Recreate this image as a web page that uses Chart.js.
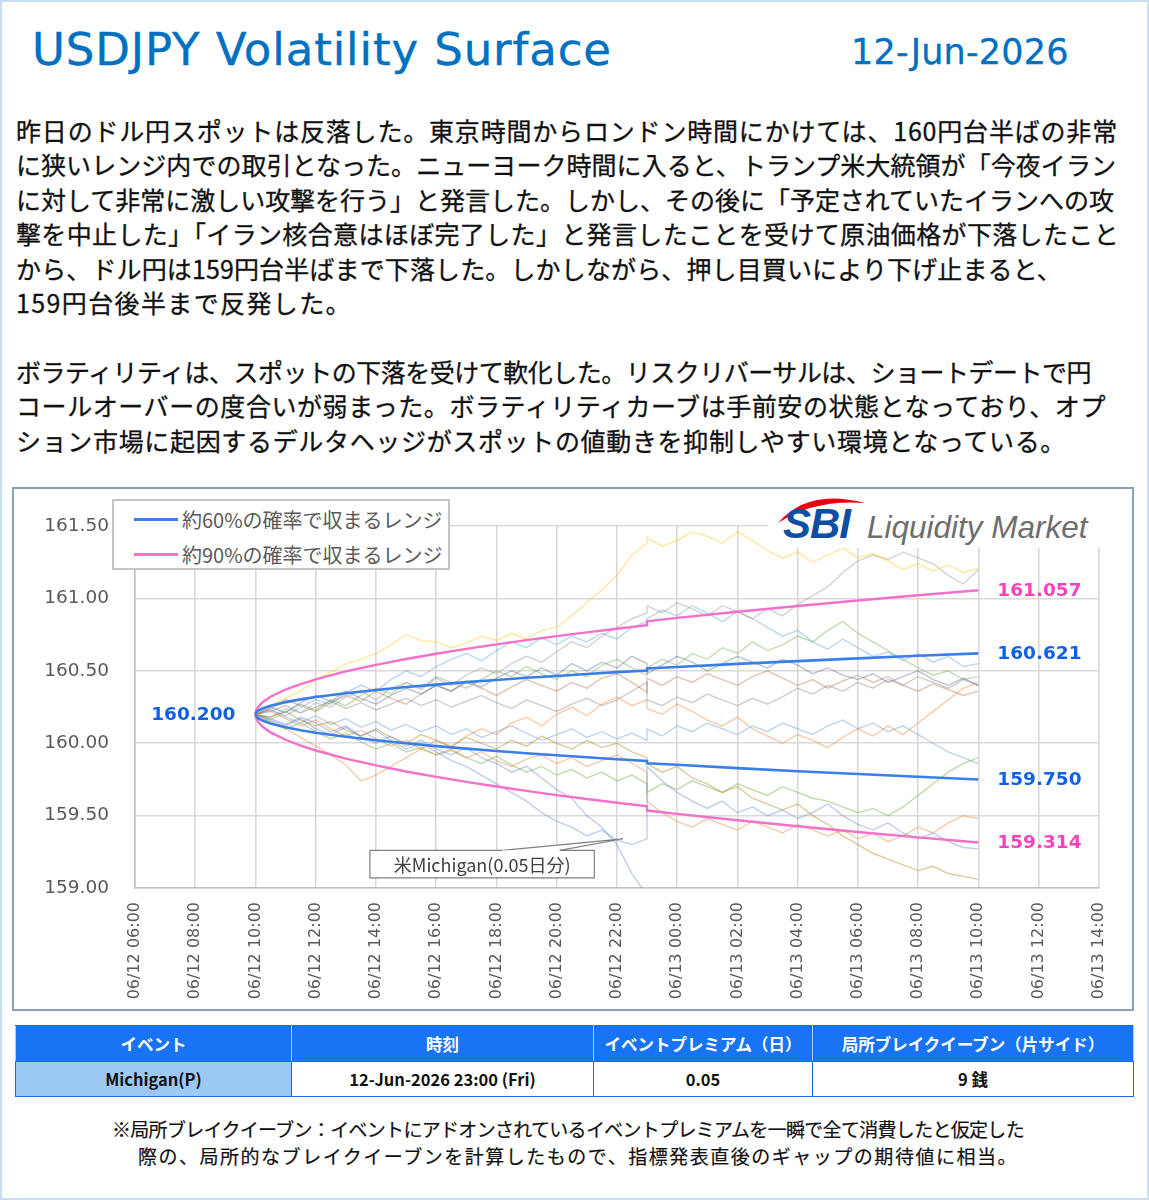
<!DOCTYPE html>
<html><head><meta charset="utf-8">
<script src="https://cdn.jsdelivr.net/npm/chart.js@4.4.1/dist/chart.umd.min.js"></script>
<style>
html,body{margin:0;padding:0;background:#fff;}
body{width:1149px;height:1200px;position:relative;overflow:hidden;font-family:"Noto Sans CJK JP","Noto Sans",sans-serif;}
#frame{position:absolute;left:0;top:0;width:1145px;height:1196px;border:2px solid #C9DDF0;}
#title{position:absolute;left:32px;top:22px;font-family:"DejaVu Sans",sans-serif;font-size:45px;line-height:56px;letter-spacing:0.9px;color:#0070C0;white-space:nowrap;-webkit-text-stroke:0.4px #0070C0;}
#date{position:absolute;left:851px;top:30px;font-family:"DejaVu Sans",sans-serif;font-size:35px;line-height:44px;letter-spacing:0.2px;color:#0070C0;white-space:nowrap;-webkit-text-stroke:0.3px #0070C0;}
.para{position:absolute;left:16px;top:113px;font-size:25px;line-height:34.4px;color:#111;-webkit-text-stroke:0.3px #111;}
.ln{display:block;width:max-content;white-space:nowrap;height:34.4px;}
#chartbox{position:absolute;left:12px;top:487px;width:1118px;height:520px;border:2px solid #8DA0B8;background:#fff;}
#chartbox canvas{position:absolute;left:0;top:0;}
#legend{position:absolute;left:112px;top:499px;width:338px;height:71px;box-sizing:border-box;border:2px solid #c4c4c4;background:#fff;}
.lg{position:absolute;left:20px;height:30px;display:flex;align-items:center;font-size:20px;color:#595959;white-space:nowrap;}
.lg i{display:inline-block;width:44px;height:3px;margin-right:4px;}
#logo{position:absolute;left:768px;top:492px;width:340px;height:56px;background:#fff;}
#evt{position:absolute;left:15px;top:1025px;border-collapse:collapse;table-layout:fixed;width:1118px;font-size:16.5px;font-weight:bold;}
#evt th{background:#1874F2;color:#fff;height:35px;border:1.5px solid #1D6BE0;border-left-color:#A9CBFF;border-right-color:#A9CBFF;padding:0;}
#evt td{height:34px;border:1.5px solid #1F66D8;text-align:center;color:#111;padding:0;background:#fff;}
#evt td.first{background:#9CC8F6;}
.note{position:absolute;font-size:19px;line-height:27px;color:#111;-webkit-text-stroke:0.2px #111;}
</style></head>
<body>
<div id="frame"></div>
<div id="title">USDJPY Volatility Surface</div>
<div id="date">12-Jun-2026</div>

<div class="para">
<span class="ln" data-w="1102">昨日のドル円スポットは反落した。東京時間からロンドン時間にかけては、160円台半ばの非常</span>
<span class="ln" data-w="1100">に狭いレンジ内での取引となった。ニューヨーク時間に入ると、トランプ米大統領が「今夜イラン</span>
<span class="ln" data-w="1098">に対して非常に激しい攻撃を行う」と発言した。しかし、その後に「予定されていたイランへの攻</span>
<span class="ln" data-w="1103">撃を中止した」「イラン核合意はほぼ完了した」と発言したことを受けて原油価格が下落したこと</span>
<span class="ln" data-w="1046">から、ドル円は159円台半ばまで下落した。しかしながら、押し目買いにより下げ止まると、</span>
<span class="ln" data-w="336">159円台後半まで反発した。</span>
<span class="ln"></span>
<span class="ln" data-w="1075">ボラティリティは、スポットの下落を受けて軟化した。リスクリバーサルは、ショートデートで円</span>
<span class="ln" data-w="1090">コールオーバーの度合いが弱まった。ボラティリティカーブは手前安の状態となっており、オプ</span>
<span class="ln" data-w="1050">ション市場に起因するデルタヘッジがスポットの値動きを抑制しやすい環境となっている。</span>
</div>

<div id="chartbox"><canvas id="c" width="1118" height="520"></canvas></div>
<div id="legend"></div>
<svg id="logo" width="340" height="56" viewBox="0 0 340 56">
  <path d="M 10 31 Q 40 -4 97 11 Q 46 7 10 31 Z" fill="#E60012"/>
  <text x="15" y="46" font-family="Liberation Sans, Arial, sans-serif" font-weight="bold" font-style="italic" font-size="42" fill="#0B4EA2" letter-spacing="-1">SBI</text>
  <text x="99" y="46" font-family="Liberation Sans, Arial, sans-serif" font-style="italic" font-size="31.5" fill="#6E6E6E">Liquidity Market</text>
</svg>

<table id="evt">
<colgroup><col style="width:276px"><col style="width:302px"><col style="width:219px"><col style="width:321px"></colgroup>
<thead><tr id="evtHead"></tr></thead>
<tbody id="evtBody"></tbody>
</table>

<div class="note" style="left:112px;top:1115px;"><span class="ln" style="height:27px" data-w="912">※局所ブレイクイーブン：イベントにアドオンされているイベントプレミアムを一瞬で全て消費したと仮定した</span></div>
<div class="note" style="left:138px;top:1142px;"><span class="ln" style="height:27px" data-w="880">際の、局所的なブレイクイーブンを計算したもので、指標発表直後のギャップの期待値に相当。</span></div>

<script>
// ---------- DATA ----------
const xTickLabels = ['06/12 06:00','06/12 08:00','06/12 10:00','06/12 12:00','06/12 14:00','06/12 16:00','06/12 18:00','06/12 20:00','06/12 22:00','06/13 00:00','06/13 02:00','06/13 04:00','06/13 06:00','06/13 08:00','06/13 10:00','06/13 12:00','06/13 14:00'];
const rangeLabels = ['約60%の確率で収まるレンジ','約90%の確率で収まるレンジ'];
const spotStart = 160.200;

// hours since 06/12 06:00 (event at 17 = 06/12 23:00 appears twice: before / after)
const envHours = [4,4.02,4.1,4.25,4.5,5,5.5,6,7,8,9,10,11,12,13,14,15,16,17,17,18,20,22,24,26,28];
const upper60 = [160.200,160.212,160.227,160.242,160.259,160.284,160.303,160.319,160.345,160.368,160.388,160.405,160.422,160.437,160.452,160.465,160.478,160.491,160.502,160.516,160.527,160.548,160.567,160.586,160.604,160.621];
const lower60 = [160.200,160.187,160.172,160.155,160.137,160.110,160.090,160.073,160.045,160.021,160.000,159.980,159.963,159.946,159.931,159.917,159.903,159.889,159.877,159.862,159.851,159.828,159.807,159.787,159.768,159.750];
const upper90 = [160.200,160.224,160.254,160.285,160.321,160.371,160.409,160.441,160.496,160.541,160.582,160.618,160.652,160.683,160.712,160.740,160.766,160.791,160.816,160.843,160.866,160.908,160.948,160.986,161.022,161.057];
const lower90 = [160.200,160.175,160.144,160.112,160.075,160.024,159.984,159.950,159.894,159.847,159.805,159.768,159.733,159.701,159.671,159.642,159.615,159.589,159.564,159.535,159.512,159.468,159.427,159.387,159.350,159.314];

const pathHours = [4,4.5,5,5.5,6,6.5,7,7.5,8,8.5,9,9.5,10, 10.5,11,11.5,12,12.5,13,13.5,14,14.5,15,15.5,16,16.5,17, 17,17.5,18,18.5,19,19.5,20,20.5,21,21.5,22,22.5, 23,23.5,24,24.5,25,25.5,26,26.5,27,27.5,28];
const pathGold = [160.20,160.26,160.31,160.36,160.44,160.49,160.55,160.58,160.62,160.68,160.75,160.71,160.70, 160.66,160.69,160.74,160.71,160.76,160.72,160.78,160.80,160.88,160.97,161.06,161.16,161.30,161.38, 161.42,161.36,161.40,161.46,161.43,161.38,161.46,161.40,161.33,161.28,161.32,161.25, 161.30,161.35,161.28,161.31,161.26,161.20,161.24,161.19,161.23,161.18,161.21];
const pathGray = [160.20,160.18,160.24,160.21,160.28,160.25,160.32,160.36,160.30,160.38,160.42,160.37,160.45, 160.40,160.47,160.52,160.48,160.55,160.60,160.56,160.63,160.70,160.66,160.74,160.80,160.86,160.90, 160.95,160.90,160.97,160.93,160.88,160.95,160.91,160.86,160.93,160.88,160.96,161.02, 161.08,161.18,161.26,161.30,161.27,161.32,161.28,161.24,161.16,161.10,161.20];
const pathSky = [160.20,160.23,160.19,160.25,160.30,160.27,160.35,160.40,160.36,160.44,160.50,160.46,160.53, 160.58,160.62,160.57,160.64,160.70,160.66,160.73,160.68,160.74,160.70,160.76,160.72,160.80,160.84, 160.86,160.92,160.88,160.95,160.90,160.84,160.91,160.86,160.80,160.74,160.78,160.70, 160.65,160.72,160.66,160.60,160.63,160.57,160.62,160.56,160.60,160.53,160.55];
const pathOrange = [160.20,160.14,160.10,160.04,159.98,159.92,159.85,159.74,159.78,159.84,159.90,159.96,160.02, 159.97,160.05,160.10,160.06,160.14,160.18,160.12,160.20,160.25,160.19,160.27,160.32,160.26,160.30, 160.24,160.20,160.27,160.22,160.16,160.12,160.18,160.10,160.05,160.00,160.06,160.02, 159.97,160.04,160.10,160.05,160.12,160.06,160.14,160.22,160.30,160.38,160.42];
const pathGreen = [160.20,160.16,160.22,160.27,160.23,160.30,160.26,160.33,160.38,160.34,160.42,160.38,160.46, 160.42,160.38,160.44,160.50,160.46,160.53,160.48,160.44,160.50,160.46,160.54,160.58,160.52,160.47, 160.52,160.58,160.54,160.62,160.58,160.66,160.62,160.70,160.64,160.68,160.74,160.70, 160.78,160.84,160.76,160.70,160.64,160.58,160.52,160.47,160.50,160.44,160.46];
const pathNavy = [160.20,160.25,160.21,160.28,160.33,160.29,160.36,160.31,160.27,160.33,160.38,160.34,160.40, 160.36,160.43,160.39,160.45,160.50,160.46,160.52,160.47,160.55,160.50,160.56,160.52,160.60,160.55, 160.48,160.54,160.60,160.56,160.50,160.55,160.60,160.56,160.52,160.58,160.54,160.48, 160.52,160.47,160.44,160.48,160.42,160.46,160.50,160.44,160.40,160.45,160.40];
const pathBrown = [160.20,160.24,160.30,160.26,160.22,160.28,160.33,160.29,160.36,160.31,160.27,160.34,160.40, 160.36,160.42,160.38,160.33,160.39,160.44,160.40,160.36,160.42,160.38,160.45,160.48,160.42,160.35, 160.45,160.40,160.46,160.42,160.48,160.44,160.40,160.46,160.50,160.45,160.40,160.44, 160.38,160.43,160.47,160.42,160.46,160.40,160.36,160.41,160.37,160.33,160.36];
const pathBlue = [160.20,160.16,160.12,160.17,160.10,160.06,160.11,160.04,160.00,160.05,159.98,160.02,159.96, 159.92,159.97,159.90,159.86,159.80,159.84,159.76,159.68,159.62,159.50,159.42,159.30,159.10,158.95, 158.85,158.78,158.70,158.62,158.58,158.52,158.48,158.45,158.50,158.42,158.40,158.44, 158.38,158.35,158.40,158.36,158.32,158.30,158.34,158.30,158.28,158.31,158.27];
const pathSteel = [160.20,160.17,160.13,160.18,160.14,160.08,160.12,160.05,160.09,160.02,159.96,160.00,159.94, 159.88,159.84,159.78,159.72,159.66,159.60,159.52,159.46,159.42,159.36,159.40,159.33,159.30,159.34, 159.84,159.74,159.66,159.60,159.55,159.60,159.52,159.56,159.50,159.54,159.48,159.52, 159.58,159.50,159.44,159.40,159.45,159.38,159.34,159.38,159.32,159.28,159.27];
const pathPeach = [160.20,160.22,160.17,160.12,160.16,160.10,160.05,160.09,160.03,159.98,160.02,159.96,159.92, 159.96,159.90,159.94,159.88,159.84,159.89,159.92,159.86,159.90,159.84,159.88,159.92,159.86,159.80, 159.60,159.52,159.46,159.42,159.48,159.44,159.40,159.46,159.42,159.38,159.44,159.40, 159.36,159.40,159.34,159.38,159.32,159.36,159.42,159.38,159.45,159.50,159.48];
const pathOlive = [160.20,160.18,160.22,160.16,160.12,160.15,160.09,160.05,160.10,160.04,160.00,160.06,160.02, 159.98,160.04,160.00,159.96,160.02,159.98,160.05,160.00,159.96,160.02,159.97,160.00,159.94,159.90, 159.86,159.80,159.84,159.76,159.72,159.66,159.70,159.62,159.58,159.54,159.58,159.50, 159.44,159.36,159.30,159.24,159.20,159.16,159.12,159.15,159.10,159.08,159.06];
const pathLime = [160.20,160.15,160.10,160.14,160.08,160.03,160.07,160.01,159.96,160.00,159.94,159.97,159.92, 159.95,159.90,159.86,159.91,159.85,159.80,159.84,159.78,159.82,159.76,159.80,159.74,159.78,159.72, 159.66,159.72,159.68,159.74,159.70,159.66,159.72,159.68,159.64,159.70,159.66,159.62, 159.60,159.56,159.52,159.55,159.50,159.56,159.64,159.72,159.80,159.86,159.90];
const pathIce = [160.20,160.23,160.18,160.14,160.19,160.13,160.17,160.11,160.15,160.09,160.13,160.08,160.12, 160.06,160.10,160.04,160.08,160.12,160.07,160.02,160.06,160.10,160.04,160.08,160.03,160.07,160.02, 160.10,160.05,160.12,160.08,160.14,160.10,160.06,160.12,160.08,160.14,160.10,160.06, 160.12,160.16,160.10,160.14,160.08,160.12,160.06,160.00,159.94,159.90,159.86];
const pathSlate = [160.20,160.22,160.26,160.21,160.25,160.29,160.24,160.28,160.23,160.27,160.31,160.26,160.30, 160.25,160.29,160.33,160.28,160.24,160.30,160.26,160.22,160.27,160.31,160.26,160.30,160.36,160.42, 160.30,160.26,160.32,160.28,160.34,160.30,160.26,160.31,160.27,160.32,160.38,160.34, 160.40,160.36,160.42,160.38,160.44,160.40,160.46,160.42,160.38,160.44,160.40];

const eventNames = ['Michigan(P)'];
const eventShort = ['Michigan'];
const eventTimes = ['12-Jun-2026 23:00 (Fri)'];
const eventPremium = [0.05];
const eventBreakEven = ['9 銭'];
const tableHeaders = ['イベント','時刻','イベントプレミアム（日）','局所ブレイクイーブン（片サイド）'];

// ---------- STYLES ----------
const blueLine = '#3A7EE8', pinkLine = '#F570C8';
const blueText = '#1260E6', pinkText = '#F045BE';
const pathStyles = [
  [pathGold,'rgba(255,192,0,0.38)'],[pathGray,'rgba(150,150,150,0.42)'],[pathSky,'rgba(91,155,213,0.4)'],
  [pathOrange,'rgba(237,125,49,0.4)'],[pathGreen,'rgba(112,173,71,0.42)'],[pathNavy,'rgba(38,68,120,0.32)'],
  [pathBrown,'rgba(158,72,14,0.32)'],[pathBlue,'rgba(68,114,196,0.35)'],[pathSteel,'rgba(120,150,200,0.48)'],
  [pathPeach,'rgba(240,150,90,0.5)'],[pathOlive,'rgba(170,130,20,0.42)'],[pathLime,'rgba(112,173,71,0.45)'],
  [pathIce,'rgba(110,160,215,0.45)'],[pathSlate,'rgba(100,100,100,0.32)']
];

const xy = (xs, ys) => ys.map((v, i) => ({x: xs[i], y: v}));

const datasets = [
  {label: rangeLabels[0], data: xy(envHours, upper60), borderColor: blueLine, borderWidth: 2.6},
  {label: rangeLabels[0], data: xy(envHours, lower60), borderColor: blueLine, borderWidth: 2.6},
  {label: rangeLabels[1], data: xy(envHours, upper90), borderColor: pinkLine, borderWidth: 2.4},
  {label: rangeLabels[1], data: xy(envHours, lower90), borderColor: pinkLine, borderWidth: 2.4}
];
pathStyles.forEach(([arr, col]) => datasets.push({label: '', data: xy(pathHours, arr), borderColor: col, borderWidth: 1.4}));

const labelPlugin = {
  id: 'labels',
  afterDatasetsDraw(chart) {
    const {ctx, scales: {x, y}} = chart;
    ctx.save();
    // event callout
    const tip = {x: x.getPixelForValue(16.2), y: y.getPixelForValue(159.34)};
    const bx0 = x.getPixelForValue(7.8), bx1 = x.getPixelForValue(15.25);
    const by0 = y.getPixelForValue(159.26), by1 = y.getPixelForValue(159.07);
    const w0 = x.getPixelForValue(12.2), w1 = x.getPixelForValue(14.1);
    ctx.fillStyle = '#fff'; ctx.strokeStyle = '#7f7f7f'; ctx.lineWidth = 1.2;
    ctx.beginPath(); ctx.moveTo(w0, by0); ctx.lineTo(tip.x, tip.y); ctx.lineTo(w1, by0); ctx.closePath(); ctx.fill();
    ctx.beginPath(); ctx.moveTo(w0, by0); ctx.lineTo(tip.x, tip.y); ctx.lineTo(w1, by0); ctx.stroke();
    ctx.fillRect(bx0, by0, bx1 - bx0, by1 - by0);
    ctx.beginPath();
    ctx.moveTo(w0, by0); ctx.lineTo(bx0, by0); ctx.lineTo(bx0, by1); ctx.lineTo(bx1, by1); ctx.lineTo(bx1, by0); ctx.lineTo(w1, by0);
    ctx.stroke();
    ctx.fillStyle = '#404040'; ctx.font = '18px "Noto Sans CJK JP"'; ctx.textAlign = 'center'; ctx.textBaseline = 'middle';
    ctx.fillText('米' + eventShort[0] + '(' + eventPremium[0].toFixed(2) + '日分)', (bx0 + bx1) / 2, (by0 + by1) / 2 + 1);

    // value labels
    ctx.font = 'bold 18.5px "DejaVu Sans"'; ctx.textBaseline = 'middle';
    ctx.textAlign = 'right'; ctx.fillStyle = blueText;
    ctx.fillText(spotStart.toFixed(3), x.getPixelForValue(envHours[0]) - 20, y.getPixelForValue(spotStart) + 1);
    ctx.textAlign = 'left';
    const n = envHours.length - 1, xe = x.getPixelForValue(envHours[n]) + 19;
    [[upper90, pinkText], [upper60, blueText], [lower60, blueText], [lower90, pinkText]].forEach(([arr, col]) => {
      ctx.fillStyle = col;
      ctx.fillText(arr[n].toFixed(3), xe, y.getPixelForValue(arr[n]) + 1);
    });
    ctx.restore();
  }
};

new Chart(document.getElementById('c'), {
  type: 'line',
  data: {datasets},
  options: {
    responsive: false, animation: false,
    layout: {padding: {top: 34, right: 32, left: 0, bottom: 0}},
    plugins: {legend: {display: false}, tooltip: {enabled: false}},
    elements: {point: {radius: 0}, line: {tension: 0}},
    scales: {
      x: {type: 'linear', min: 0, max: 32,
          ticks: {stepSize: 2, autoSkip: false, minRotation: 90, maxRotation: 90, padding: 14, color: '#595959',
                  font: {family: 'DejaVu Sans', size: 16}, callback: v => xTickLabels[Math.round(v / 2)]},
          grid: {color: '#d9d9d9', lineWidth: 1.6, drawTicks: false},
          border: {color: '#c0c0c0', width: 1.6},
          afterFit(s) { s.height = 121; }},
      y: {min: 159, max: 161.5,
          ticks: {stepSize: 0.5, padding: 26, color: '#595959', font: {family: 'DejaVu Sans', size: 18.5},
                  callback: v => v.toFixed(2)},
          grid: {color: '#d9d9d9', lineWidth: 1.6, drawTicks: false},
          border: {color: '#c0c0c0', width: 1.6},
          afterFit(s) { s.width = 121; }}
    }
  },
  plugins: [labelPlugin]
});

// legend (HTML, from range labels)
const lg = document.getElementById('legend');
[[rangeLabels[0], blueLine, 3], [rangeLabels[1], pinkLine, 38]].forEach(([t, c, top]) => {
  const d = document.createElement('div'); d.className = 'lg'; d.style.top = top + 'px';
  d.innerHTML = '<i style="background:' + c + '"></i>' + t; lg.appendChild(d);
});

// event table
document.getElementById('evtHead').innerHTML = tableHeaders.map(h => '<th>' + h + '</th>').join('');
document.getElementById('evtBody').innerHTML = eventNames.map((n, i) =>
  '<tr><td class="first">' + n + '</td><td>' + eventTimes[i] + '</td><td>' + eventPremium[i].toFixed(2) + '</td><td>' + eventBreakEven[i] + '</td></tr>').join('');

// fit text lines to their measured widths
function fitLines() {
  document.querySelectorAll('[data-w]').forEach(el => {
    el.style.letterSpacing = '0px';
    const w = el.getBoundingClientRect().width;
    const n = [...el.textContent].length;
    el.style.letterSpacing = ((parseFloat(el.dataset.w) - w) / n) + 'px';
  });
}
fitLines();
if (document.fonts && document.fonts.ready) document.fonts.ready.then(fitLines);
</script>
</body></html>
